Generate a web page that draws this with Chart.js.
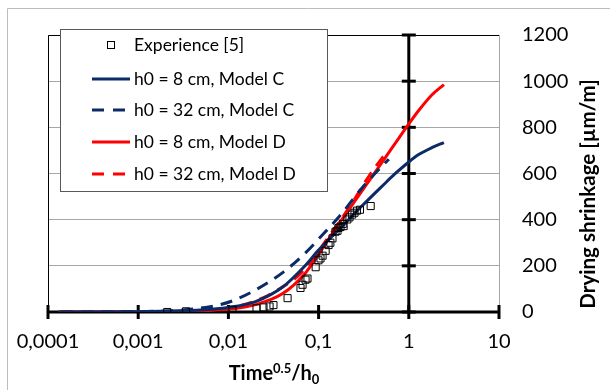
<!DOCTYPE html>
<html>
<head>
<meta charset="utf-8">
<script src="https://cdn.jsdelivr.net/npm/chart.js@4.4.1/dist/chart.umd.min.js"></script>
<style>
  html, body { margin: 0; padding: 0; background: #fff; }
  canvas { display: block; }
</style>
</head>
<body>
<canvas id="shrinkChart" width="610" height="390"></canvas>
<script>
'use strict';

// ===== DATA =====
const xTickValues = [0.0001, 0.001, 0.01, 0.1, 1, 10];
const xTickLabels = ['0,0001', '0,001', '0,01', '0,1', '1', '10'];

// Experience [5]
const expX = [0.0021, 0.0034, 0.0111, 0.0205, 0.0245, 0.0286, 0.0316, 0.0453, 0.063, 0.0664, 0.0717, 0.0753,
    0.0928, 0.0998, 0.105, 0.1107, 0.1197, 0.129, 0.135, 0.1425, 0.154, 0.162, 0.166, 0.175, 0.185, 0.1895,
    0.2085, 0.22, 0.2355, 0.25, 0.266, 0.2875, 0.378];
const expY = [0, 3, 10, 16, 20, 24, 30, 60, 104, 118, 140, 145,
    194, 224, 232, 244, 265, 290, 300, 319, 348, 352, 364, 368, 381, 372,
    401, 410, 422, 430, 439, 443, 459];

// h0 = 8 cm, Model C
const c8X = [0.00013, 0.001, 0.003, 0.006, 0.011, 0.02, 0.04, 0.07, 0.1, 0.15, 0.2, 0.3, 0.5, 0.7, 1, 1.3, 1.8, 2.45];
const c8Y = [0, 1, 5, 11, 22, 45, 108, 198, 268, 338, 388, 458, 543, 598, 650, 683, 712, 734];

// h0 = 32 cm, Model C
const c32X = [0.00014, 0.001, 0.003, 0.0075, 0.0114, 0.021, 0.041, 0.068, 0.114, 0.175, 0.316, 0.6];
const c32Y = [0, 2, 8, 29, 50, 100, 174, 248, 340, 420, 546, 662];

// h0 = 8 cm, Model D
const d8X = [0.00013, 0.001, 0.003, 0.006, 0.011, 0.02, 0.04, 0.07, 0.1, 0.15, 0.2, 0.3, 0.5, 0.7, 1, 1.3, 1.8, 2.45];
const d8Y = [0, 0, 3, 7, 14, 32, 80, 165, 250, 354, 424, 522, 646, 728, 815, 875, 940, 985];

// h0 = 32 cm, Model D
const d32X = [0.00014, 0.001, 0.003, 0.006, 0.01, 0.0245, 0.0378, 0.058, 0.0815, 0.12, 0.227, 0.378, 0.585];
const d32Y = [0, 1, 4, 9, 16, 62, 103, 153, 215, 308, 463, 600, 699];

const NAVY = '#0b2a66';
const RED = '#ff0000';
const FONT = 'Lato';

function pts(xs, ys) { return xs.map((x, i) => ({ x: x, y: ys[i] })); }

function lineSet(label, xs, ys, color, dashed) {
    return {
        label: label, data: pts(xs, ys), showLine: true,
        borderColor: color, backgroundColor: color, borderWidth: 3,
        borderDash: dashed ? [12, 8] : [], pointRadius: 0,
        cubicInterpolationMode: 'monotone', order: 1,
    };
}

// ===== PLUGIN: frame, crossing axes, legend, titles =====
const framePlugin = {
    id: 'frame',
    beforeDatasetsDraw(chart) {
        const { ctx, chartArea: a, scales: { x, y } } = chart;
        ctx.save();
        // outer chart border
        ctx.strokeStyle = '#bcbcbc'; ctx.lineWidth = 1;
        ctx.beginPath(); ctx.moveTo(7.5, 390); ctx.lineTo(7.5, 8.5); ctx.lineTo(610, 8.5); ctx.stroke();
        // plot area border
        ctx.strokeStyle = '#a6a6a6';
        ctx.beginPath(); ctx.moveTo(Math.round(a.right) + 0.5, a.top); ctx.lineTo(Math.round(a.right) + 0.5, a.bottom); ctx.stroke();
        ctx.strokeStyle = '#000';
        ctx.beginPath();
        ctx.moveTo(Math.round(a.left) + 0.5, a.bottom); ctx.lineTo(Math.round(a.left) + 0.5, Math.round(a.top) + 0.5);
        ctx.lineTo(a.right, Math.round(a.top) + 0.5); ctx.stroke();

        // axes crossing: x axis at y = 0, y axis at x = 1
        ctx.lineWidth = 3; ctx.strokeStyle = '#000';
        const y0 = y.getPixelForValue(0), x1 = x.getPixelForValue(1);
        ctx.beginPath(); ctx.moveTo(a.left, y0); ctx.lineTo(a.right, y0); ctx.stroke();
        xTickValues.forEach(v => {
            const px = x.getPixelForValue(v);
            ctx.beginPath(); ctx.moveTo(px, y0 - 7); ctx.lineTo(px, y0 + 7); ctx.stroke();
        });
        ctx.beginPath(); ctx.moveTo(x1, a.top); ctx.lineTo(x1, a.bottom); ctx.stroke();
        y.ticks.forEach(t => {
            const py = y.getPixelForValue(t.value);
            ctx.beginPath(); ctx.moveTo(x1 - 7, py); ctx.lineTo(x1 + 7, py); ctx.stroke();
        });
        ctx.restore();
    },
    afterDraw(chart) {
        const { ctx } = chart;
        ctx.save();
        // legend
        ctx.fillStyle = '#fff'; ctx.strokeStyle = '#595959'; ctx.lineWidth = 1;
        ctx.fillRect(60.5, 29.5, 267, 162); ctx.strokeRect(60.5, 29.5, 267, 162);
        const rowsY = [45, 79, 110, 142, 174];
        chart.data.datasets.forEach((ds, i) => {
            const ry = rowsY[i];
            if (ds.showLine) {
                ctx.strokeStyle = ds.borderColor; ctx.lineWidth = 3;
                ctx.setLineDash(ds.borderDash.length ? [12, 9] : []);
                ctx.beginPath(); ctx.moveTo(92, ry); ctx.lineTo(130, ry); ctx.stroke();
                ctx.setLineDash([]);
            } else {
                ctx.strokeStyle = '#000'; ctx.lineWidth = 1; ctx.fillStyle = '#fff';
                ctx.fillRect(107.5, ry - 3.5, 7, 7); ctx.strokeRect(107.5, ry - 3.5, 7, 7);
            }
            ctx.fillStyle = '#000'; ctx.font = '17.5px ' + FONT;
            ctx.textAlign = 'left'; ctx.textBaseline = 'middle';
            ctx.fillText(ds.label, 134, ry);
        });

        // y axis title
        ctx.save();
        ctx.translate(588, 194); ctx.rotate(-Math.PI / 2);
        ctx.font = 'bold 20.6px ' + FONT; ctx.textAlign = 'center'; ctx.textBaseline = 'middle';
        ctx.fillText('Drying shrinkage [µm/m]', 0, 0);
        ctx.restore();

        // x axis title: Time^0.5/h_0
        const parts = [['Time', 20, 0], ['0.5', 13, -7], ['/h', 20, 0], ['0', 13, 4]];
        let total = 0;
        parts.forEach(p => { ctx.font = 'bold ' + p[1] + 'px ' + FONT; total += ctx.measureText(p[0]).width; });
        let cx = 274 - total / 2;
        ctx.textAlign = 'left'; ctx.textBaseline = 'alphabetic';
        parts.forEach(p => {
            ctx.font = 'bold ' + p[1] + 'px ' + FONT;
            ctx.fillText(p[0], cx, 380 + p[2]);
            cx += ctx.measureText(p[0]).width;
        });
        ctx.restore();
    }
};

new Chart(document.getElementById('shrinkChart'), {
    type: 'scatter',
    data: {
        datasets: [
            {
                label: 'Experience [5]', data: pts(expX, expY), showLine: false,
                pointStyle: 'rect', pointRadius: 5, pointBorderWidth: 1,
                borderColor: '#000', backgroundColor: 'rgba(255,255,255,0)', order: 0,
            },
            lineSet('h0 = 8 cm, Model C', c8X, c8Y, NAVY, false),
            lineSet('h0 = 32 cm, Model C', c32X, c32Y, NAVY, true),
            lineSet('h0 = 8 cm, Model D', d8X, d8Y, RED, false),
            lineSet('h0 = 32 cm, Model D', d32X, d32Y, RED, true),
        ]
    },
    options: {
        responsive: false, animation: false, devicePixelRatio: 1,
        layout: { padding: { left: 48, top: 22, right: 0, bottom: 0 } },
        plugins: { legend: { display: false }, tooltip: { enabled: false } },
        scales: {
            x: {
                type: 'logarithmic', min: 0.0001, max: 10,
                afterBuildTicks: s => { s.ticks = xTickValues.map(v => ({ value: v })); },
                afterFit: s => { s.height = 78; },
                grid: { display: false }, border: { display: false },
                ticks: {
                    autoSkip: false, maxRotation: 0, padding: 10, color: '#000',
                    font: { family: FONT, size: 20 },
                    callback: v => {
                        const i = xTickValues.findIndex(t => Math.abs(Math.log10(t) - Math.log10(v)) < 1e-6);
                        return i >= 0 ? xTickLabels[i] : '';
                    }
                }
            },
            y: {
                position: 'right', min: 0, max: 1200,
                afterFit: s => { s.width = 111; },
                grid: { color: '#a6a6a6', lineWidth: 1, drawTicks: false }, border: { display: false },
                ticks: {
                    stepSize: 200, padding: 23, color: '#000', font: { family: FONT, size: 20 },
                    callback: v => String(v)
                }
            }
        }
    },
    plugins: [framePlugin]
});
</script>
</body>
</html>
